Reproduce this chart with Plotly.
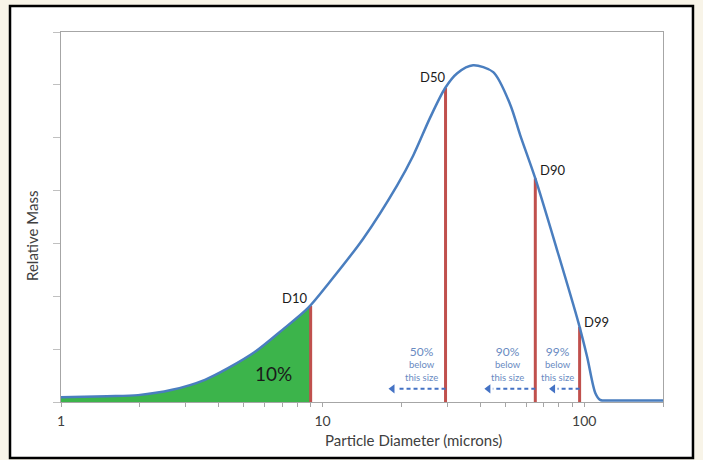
import plotly.graph_objects as go
import math

# ---- data ----
diameter = [1.0, 1.5, 1.97, 2.66, 3.55, 4.35, 5.52, 7.0, 8.8, 10.68, 14.29, 19.27, 22.18,
            25.76, 29.4, 32.7, 37.6, 44.9, 52.1, 56.9, 65.0, 78.8, 94.9, 102.6, 110.2,
            115.0, 130.0, 200.0]
rel_mass = [0.09, 0.11, 0.13, 0.23, 0.42, 0.64, 0.95, 1.36, 1.78, 2.28, 3.09, 4.10, 4.66,
            5.38, 5.94, 6.22, 6.37, 6.24, 5.63, 5.05, 4.23, 2.87, 1.51, 0.85, 0.17,
            0.04, 0.03, 0.03]

d_names = ["D10", "D50", "D90", "D99"]
d_sizes = [9.0, 29.5, 65.0, 96.0]
d_heights = [1.82, 5.94, 4.23, 1.42]

pct_labels = ["50%", "90%", "99%"]
pct_sizes = [29.5, 65.0, 96.0]          # arrow tails (at the D lines)
pct_heads = [18.5, 43.0, 76.0]          # arrow heads
pct_text_x = [23.9, 50.8, 78.9]

x_tick_vals = [1, 2, 3, 4, 5, 6, 7, 8, 9, 10, 20, 30, 40, 50, 60, 70, 80, 90, 100, 200]
x_tick_text = ["1", "", "", "", "", "", "", "", "", "10", "", "", "", "", "", "", "", "", "100", ""]
y_tick_vals = [0, 1, 2, 3, 4, 5, 6, 7]

BLUE = "#4a7ebf"
RED = "#c0504d"
GREEN = "#3cb44b"
FONT = "Lato, 'Open Sans', sans-serif"
TXT = "#404040"

fig = go.Figure()

# green 10% area
fx = [d for d in diameter if d <= d_sizes[0]] + [d_sizes[0]]
fy = [m for d, m in zip(diameter, rel_mass) if d <= d_sizes[0]] + [d_heights[0]]
fig.add_trace(go.Scatter(x=fx, y=fy, mode="lines", fill="tozeroy",
                         fillcolor=GREEN, line=dict(color=GREEN, width=0, shape="spline", smoothing=0.8),
                         hoverinfo="skip"))

# red D lines
for d, h in zip(d_sizes, d_heights):
    fig.add_trace(go.Scatter(x=[d, d], y=[0, h], mode="lines",
                             line=dict(color=RED, width=3), hoverinfo="skip"))

# dashed arrows
for tail, head in zip(pct_sizes, pct_heads):
    fig.add_trace(go.Scatter(x=[tail, head * 1.04], y=[0.25, 0.25], mode="lines",
                             line=dict(color="#4472c4", width=2, dash="4px,3px"), hoverinfo="skip"))
    fig.add_trace(go.Scatter(x=[head], y=[0.25], mode="markers",
                             marker=dict(symbol="triangle-left", size=8, color="#4472c4"),
                             hoverinfo="skip"))

# blue distribution curve
fig.add_trace(go.Scatter(x=diameter, y=rel_mass, mode="lines",
                         line=dict(color=BLUE, width=2.5, shape="spline", smoothing=0.8),
                         hoverinfo="skip"))

annotations = []
label_pos = [(7.82, 1.97), (26.3, 6.15), (75.5, 4.38), (111.0, 1.52)]
for name, (lx, ly) in zip(d_names, label_pos):
    annotations.append(dict(x=math.log10(lx), y=ly, xref="x", yref="y", text=name,
                            showarrow=False, font=dict(family=FONT, size=13, color="#1a1a1a")))
annotations.append(dict(x=math.log10(6.5), y=0.53, xref="x", yref="y", text="10%",
                        showarrow=False, font=dict(family=FONT, size=19, color="#1a1a1a")))
for lab, tx in zip(pct_labels, pct_text_x):
    annotations.append(dict(x=math.log10(tx), y=0.72, xref="x", yref="y",
                            text=f"<span style='font-size:12px'>{lab}</span><br>below<br>this size",
                            showarrow=False, align="center",
                            font=dict(family=FONT, size=9.5, color="#6a8bc2")))
annotations.append(dict(x=0.585, y=-0.103, xref="paper", yref="paper",
                        xanchor="center", yanchor="middle",
                        text="Particle Diameter (microns)", showarrow=False,
                        font=dict(family=FONT, size=15, color=TXT)))
annotations.append(dict(x=-0.048, y=0.449, xref="paper", yref="paper",
                        xanchor="center", yanchor="middle",
                        text="Relative Mass", showarrow=False, textangle=-90,
                        font=dict(family=FONT, size=15, color=TXT)))

fig.update_layout(
    width=703, height=460,
    margin=dict(l=61, r=40, t=32, b=58),
    paper_bgcolor="#f8f4e8", plot_bgcolor="white",
    showlegend=False, hovermode=False,
    annotations=annotations,
    shapes=[dict(type="rect", xref="paper", yref="paper",
                 x0=-0.0847, x1=1.0498, y0=-0.1514, y1=1.0703,
                 fillcolor="white", line=dict(color="black", width=2.5), layer="below")],
    font=dict(family=FONT, color=TXT),
)
fig.update_xaxes(type="log", range=[0, math.log10(200)], tickvals=x_tick_vals,
                 ticktext=x_tick_text, ticks="outside", ticklen=4, tickcolor="#a6a6a6",
                 showline=True, linecolor="#a6a6a6", linewidth=1, mirror=True,
                 showgrid=False, zeroline=False, ticklabelstandoff=2,
                 tickfont=dict(family=FONT, size=14, color=TXT))
fig.update_yaxes(range=[0, 7], tickvals=y_tick_vals, showticklabels=False,
                 ticks="outside", ticklen=7, tickcolor="#c0c0c0",
                 showline=True, linecolor="#a6a6a6", linewidth=1, mirror=True,
                 showgrid=False, zeroline=False)

fig.write_html("out.html", config={"displayModeBar": False},
               post_script="document.body.style.margin='0';document.body.style.background='#f8f4e8';")
